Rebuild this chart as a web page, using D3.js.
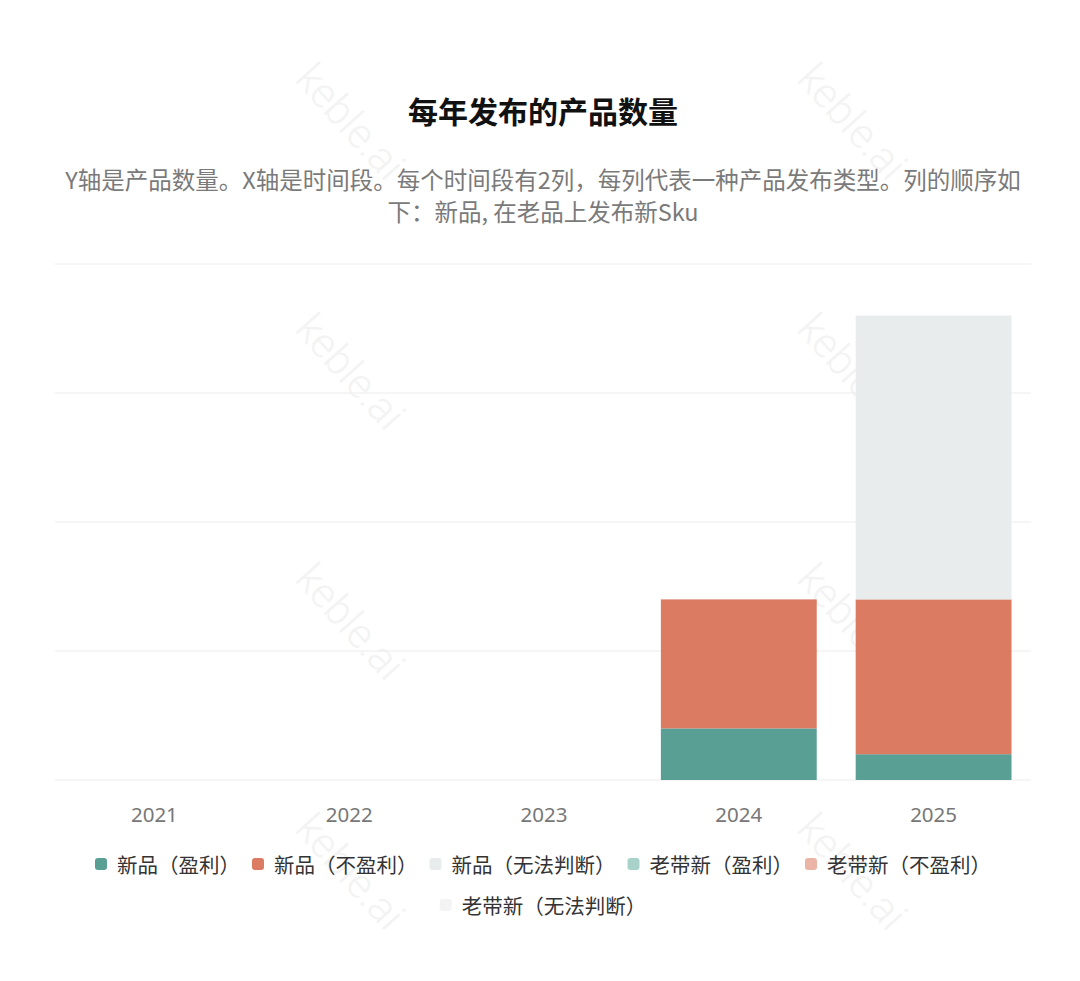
<!DOCTYPE html>
<html><head><meta charset="utf-8">
<script src="https://cdn.jsdelivr.net/npm/d3@7/dist/d3.min.js"></script>
<style>
html,body{margin:0;padding:0;background:#fff;}
svg{display:block;font-family:"Noto Sans CJK SC","Noto Sans",sans-serif;}
</style></head>
<body><svg id="chart" width="1080" height="981"></svg>
<script>
const years = ["2021","2022","2023","2024","2025"];
const seriesNames = ["新品（盈利）","新品（不盈利）","新品（无法判断）","老带新（盈利）","老带新（不盈利）","老带新（无法判断）"];
const seriesColors = ["#5a9f94","#da7b62","#e8eced","#a8d1c9","#eab5a6","#f3f3f3"];
const newProfit   = [0,0,0,4,2];
const newLoss     = [0,0,0,10,12];
const newUnknown  = [0,0,0,0,22];
const oldProfit   = [0,0,0,0,0];
const oldLoss     = [0,0,0,0,0];
const oldUnknown  = [0,0,0,0,0];
const yTicks = [0,10,20,30,40];
const title = "每年发布的产品数量";
const subtitleLines = ["Y轴是产品数量。X轴是时间段。每个时间段有2列，每列代表一种产品发布类型。列的顺序如","下：新品, 在老品上发布新Sku"];
const watermark = "keble.ai";

const svg = d3.select("#chart");

// watermark
const wmX = [348, 850], wmY = [124, 374, 624, 874];
wmX.forEach(x => wmY.forEach(y => {
  svg.append("text").attr("x", x).attr("y", y)
    .attr("transform", `rotate(48,${x},${y})`)
    .attr("text-anchor","middle").attr("dominant-baseline","middle")
    .attr("font-size", 42).attr("font-family","Roboto,sans-serif").attr("font-weight",300)
    .attr("fill","#f3f3f3").text(watermark);
}));

svg.append("text").attr("x", 543).attr("y", 123).attr("text-anchor","middle")
  .attr("font-size", 30).attr("font-weight", 700).attr("fill", "#111").text(title);
subtitleLines.forEach((l,i) => {
  svg.append("text").attr("x", 543).attr("y", 189 + i*32).attr("text-anchor","middle")
    .attr("font-size", 23.5).attr("fill", "#7a7a7a").text(l);
});

const x = d3.scaleBand().domain(years).range([57, 1031]).paddingInner(0.2).paddingOuter(0.1);
const y = d3.scaleLinear().domain([0, 40]).range([780, 264]);

const g = svg.append("g");
g.selectAll("line.grid").data(yTicks).join("line").attr("class","grid")
  .attr("x1", 55).attr("x2", 1031).attr("y1", d => y(d)).attr("y2", d => y(d))
  .attr("stroke", "#ececec").attr("stroke-width", 1);

const keys = ["np","nl","nu","op","ol","ou"];
const arrs = [newProfit,newLoss,newUnknown,oldProfit,oldLoss,oldUnknown];
const table = years.map((yr,i) => { const o = {year: yr}; keys.forEach((k,j) => o[k] = arrs[j][i]); return o; });
const stack = d3.stack().keys(keys)(table);
g.selectAll("g.series").data(stack).join("g").attr("fill", (d,i) => seriesColors[i])
  .selectAll("rect").data(d => d.filter(p => p[1] > p[0])).join("rect")
  .attr("x", d => x(d.data.year)).attr("width", x.bandwidth())
  .attr("y", d => y(d[1])).attr("height", d => y(d[0]) - y(d[1]));

const xAxis = svg.append("g").attr("transform","translate(0,780)")
  .call(d3.axisBottom(x).tickSize(0).tickPadding(27));
xAxis.select(".domain").remove();
xAxis.selectAll("text").attr("font-size", 20.5).attr("fill", "#777")
  .attr("font-family","'Noto Sans',sans-serif");

// legend
const rows = [[0,1,2,3,4],[5]];
const rowY = [864, 905];
const fs = 20.5, mk = 12, mkGap = 10, itemGap = 12;
const tmp = svg.append("text").attr("font-size", fs);
const widths = seriesNames.map(n => { tmp.text(n); return tmp.node().getComputedTextLength(); });
tmp.remove();
rows.forEach((row, ri) => {
  const total = row.reduce((s,i) => s + mk + mkGap + widths[i], 0) + itemGap*(row.length-1);
  let cx = 543 - total/2;
  row.forEach(i => {
    svg.append("rect").attr("x", cx).attr("y", rowY[ri]-mk/2).attr("width", mk).attr("height", mk)
      .attr("rx", 3).attr("fill", seriesColors[i]);
    svg.append("text").attr("x", cx + mk + mkGap).attr("y", rowY[ri]).attr("dominant-baseline","central")
      .attr("font-size", fs).attr("fill","#333").text(seriesNames[i]);
    cx += mk + mkGap + widths[i] + itemGap;
  });
});
</script></body></html>
